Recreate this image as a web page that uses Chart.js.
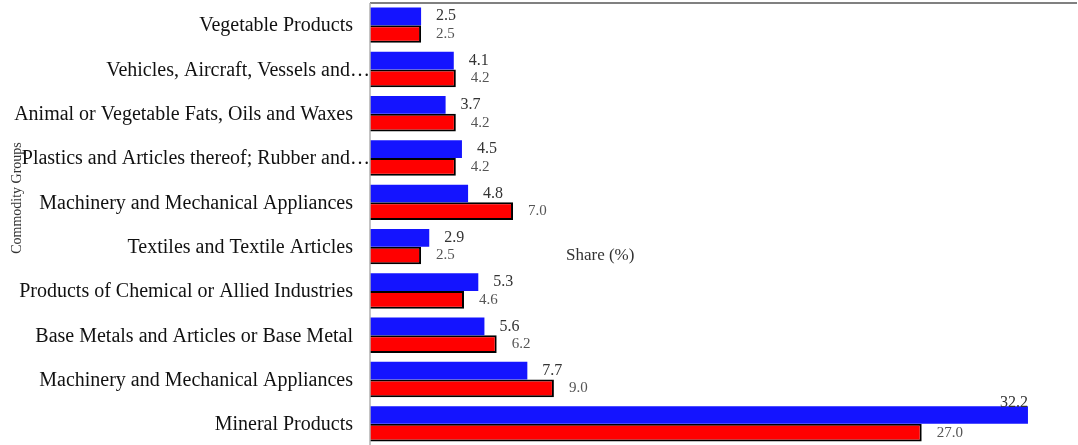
<!DOCTYPE html>
<html>
<head>
<meta charset="utf-8">
<script src="https://cdn.jsdelivr.net/npm/chart.js@4.4.0/dist/chart.umd.min.js"></script>
<style>
html,body{margin:0;padding:0;background:#fff;overflow:hidden;}
canvas{display:block;}
</style>
</head>
<body>
<canvas id="c" width="1078" height="446"></canvas>
<script>
const categories = [
  "Vegetable Products",
  "Vehicles, Aircraft, Vessels and\u2026",
  "Animal or Vegetable Fats, Oils and Waxes",
  "Plastics and Articles thereof; Rubber and\u2026",
  "Machinery and Mechanical Appliances",
  "Textiles and Textile Articles",
  "Products of Chemical or Allied Industries",
  "Base Metals and Articles or Base Metal",
  "Machinery and Mechanical Appliances",
  "Mineral Products"
];
const blueValues = [2.5, 4.1, 3.7, 4.5, 4.8, 2.9, 5.3, 5.6, 7.7, 32.2];
const redValues  = [2.5, 4.2, 4.2, 4.2, 7.0, 2.5, 4.6, 6.2, 9.0, 27.0];
const xAxisTitle = "Share (%)";
const yAxisTitle = "Commodity Groups";

const SERIF = "'Liberation Serif', 'DejaVu Serif', serif";

const decor = {
  id: 'decor',
  afterDraw(chart) {
    const ctx = chart.ctx;
    const a = chart.chartArea;
    const y = chart.scales.y;
    ctx.save();
    // top border
    ctx.strokeStyle = '#808080';
    ctx.lineWidth = 2;
    ctx.beginPath();
    ctx.moveTo(a.left, a.top);
    ctx.lineTo(a.right, a.top);
    ctx.stroke();
    // left border
    ctx.strokeStyle = '#b0b0b0';
    ctx.lineWidth = 1.5;
    ctx.beginPath();
    ctx.moveTo(a.left, a.top);
    ctx.lineTo(a.left, chart.height);
    ctx.stroke();
    // category labels
    ctx.fillStyle = '#111';
    ctx.font = '20px ' + SERIF;
    ctx.textAlign = 'right';
    ctx.textBaseline = 'middle';
    categories.forEach((c, i) => {
      const py = y.getPixelForValue(i) + 1;
      const px = c.endsWith('\u2026') ? a.left : a.left - 17;
      ctx.fillText(c, px, py);
    });
    // value labels
    chart.data.datasets.forEach((ds, di) => {
      const meta = chart.getDatasetMeta(di);
      meta.data.forEach((el, i) => {
        const txt = ds.data[i].toFixed(1);
        if (di === 0) {
          ctx.font = '16px ' + SERIF;
          ctx.fillStyle = '#333';
        } else {
          ctx.font = '15px ' + SERIF;
          ctx.fillStyle = '#555';
        }
        const w = ctx.measureText(txt).width;
        let tx = el.x + (di === 0 ? 15 : 15);
        let ty = el.y;
        if (tx + w > a.right - 20) {
          ctx.textAlign = 'right';
          tx = el.x;
          ty = el.y - 12;
        } else {
          ctx.textAlign = 'left';
        }
        ctx.fillText(txt, tx, ty);
      });
    });
    // axis titles
    ctx.fillStyle = '#333';
    ctx.font = '17px ' + SERIF;
    ctx.textAlign = 'left';
    ctx.fillText(xAxisTitle, 566, 256);
    ctx.font = '14px ' + SERIF;
    ctx.translate(17, 198);
    ctx.rotate(-Math.PI / 2);
    ctx.textAlign = 'center';
    ctx.fillText(yAxisTitle, 0, 0);
    ctx.restore();
  }
};

new Chart(document.getElementById('c'), {
  type: 'bar',
  data: {
    labels: categories,
    datasets: [
      {
        label: 'Series 1',
        data: blueValues,
        backgroundColor: '#1414ff',
        borderWidth: 0,
        categoryPercentage: 0.8,
        barPercentage: 1.0
      },
      {
        label: 'Series 2',
        data: redValues,
        backgroundColor: '#ff0000',
        borderColor: '#000',
        borderWidth: 2,
        categoryPercentage: 0.8,
        barPercentage: 1.0
      }
    ]
  },
  options: {
    indexAxis: 'y',
    responsive: false,
    animation: false,
    devicePixelRatio: 1,
    layout: { padding: { left: 370, top: 3, right: 1, bottom: 0 } },
    plugins: { legend: { display: false }, tooltip: { enabled: false } },
    scales: {
      x: { display: false, min: 0, max: 34.6 },
      y: {
        display: true,
        grid: { display: false },
        border: { display: false },
        ticks: { display: false },
        afterFit(s) { s.width = 0; }
      }
    }
  },
  plugins: [decor]
});
</script>
</body>
</html>
